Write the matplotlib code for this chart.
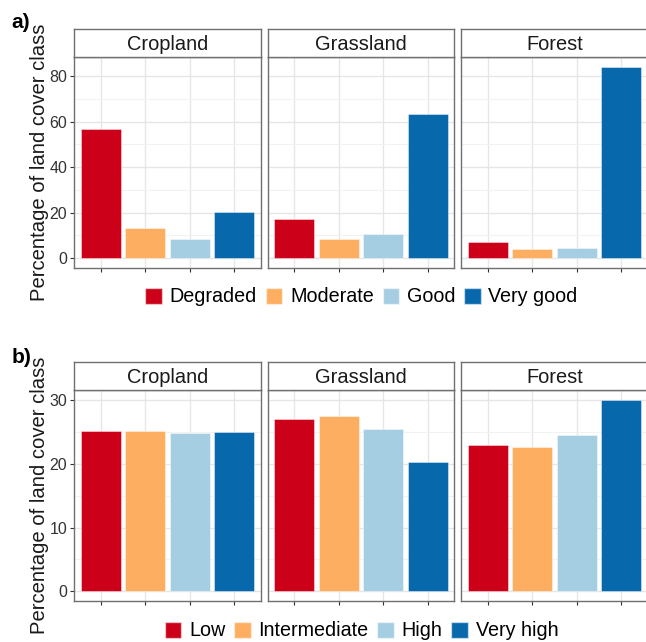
import matplotlib
matplotlib.use("Agg")
import matplotlib.pyplot as plt
from matplotlib.patches import Patch

plt.rcParams['font.family'] = ['Liberation Sans', 'DejaVu Sans']

# data
covers = ["Cropland", "Grassland", "Forest"]
cond_classes = ["Degraded", "Moderate", "Good", "Very good"]
cond_values = {
    "Cropland": [56.8, 13.4, 8.6, 20.4],
    "Grassland": [17.2, 8.5, 10.5, 63.2],
    "Forest": [7.1, 3.9, 4.4, 84.0],
}
prio_classes = ["Low", "Intermediate", "High", "Very high"]
prio_values = {
    "Cropland": [25.1, 25.2, 24.8, 25.0],
    "Grassland": [27.0, 27.4, 25.4, 20.3],
    "Forest": [23.0, 22.6, 24.5, 30.0],
}
colors = ["#CC0018", "#FDAE61", "#A6CEE3", "#0868AC"]

W, H = 646, 642
fig = plt.figure(figsize=(W / 100, H / 100), dpi=100)

border = "#707070"
grid_major = "#E6E6E6"
grid_minor = "#F2F2F2"


def fx(px):
    return px / W


def fy(px):
    return 1 - px / H


def draw_row(values, classes, strip_top, panel_top, panel_bottom, ylim, majors, minors,
             legend_y, tag, tag_y):
    lefts = [74.3, 267.7, 461.0]
    pw = 186.7
    for i, cover in enumerate(covers):
        ax = fig.add_axes([fx(lefts[i]), fy(panel_bottom), pw / W, (panel_bottom - panel_top) / H])
        xs = range(1, len(classes) + 1)
        ax.bar(xs, values[cover], width=0.9, color=colors, edgecolor=(1, 1, 1, 0.5),
               linewidth=0.6, zorder=3)
        ax.set_xlim(0.4, 4.6)
        ax.set_ylim(*ylim)
        ax.set_xticks(list(xs))
        ax.set_xticklabels([])
        ax.set_yticks(majors)
        ax.set_yticks(minors, minor=True)
        ax.grid(True, which="major", color=grid_major, lw=1.0, zorder=0)
        ax.grid(True, which="minor", axis="y", color=grid_minor, lw=0.8, zorder=0)
        ax.tick_params(axis="x", length=3, color="#333333", width=0.8)
        ax.tick_params(axis="y", which="minor", length=0)
        if i == 0:
            ax.tick_params(axis="y", which="major", length=3, color="#333333", width=0.8,
                           labelsize=11.5, labelcolor="#333333", pad=2)
            ax.set_ylabel("Percentage of land cover class", fontsize=14.6, color="#1a1a1a",
                          va="center")
            ax.yaxis.set_label_coords(-(74.3 - 40) / pw, 0.5)
        else:
            ax.tick_params(axis="y", which="major", length=0, labelleft=False)
        for s in ax.spines.values():
            s.set_color(border)
            s.set_linewidth(1.0)

        sax = fig.add_axes([fx(lefts[i]), fy(panel_top), pw / W, (panel_top - strip_top) / H])
        sax.set_xticks([])
        sax.set_yticks([])
        for s in sax.spines.values():
            s.set_color(border)
            s.set_linewidth(1.0)
        sax.text(0.5, 0.45, cover, ha="center", va="center", fontsize=14.4, color="#1a1a1a",
                 transform=sax.transAxes)

    handles = [Patch(facecolor=c, edgecolor=(1, 1, 1, 0.5), label=l) for c, l in zip(colors, classes)]
    fig.legend(handles=handles, loc="center", bbox_to_anchor=(fx(361.5), fy(legend_y)), ncol=4,
               frameon=False, fontsize=14.2, handlelength=0.85, handleheight=0.85,
               handletextpad=0.38, columnspacing=0.45, borderpad=0, borderaxespad=0)
    fig.text(fx(11.5), fy(tag_y), tag, fontsize=15, fontweight="bold", ha="left", va="center")


draw_row(cond_values, cond_classes, 28.7, 57.3, 267.7, (-4.2, 88.2), [0, 20, 40, 60, 80],
         [10, 30, 50, 70], 297, "a)", 23)
draw_row(prio_values, prio_classes, 361.7, 390.3, 601.0, (-1.5, 31.5), [0, 10, 20, 30],
         [5, 15, 25], 631, "b)", 358)

fig.savefig("out.png", dpi=100)
